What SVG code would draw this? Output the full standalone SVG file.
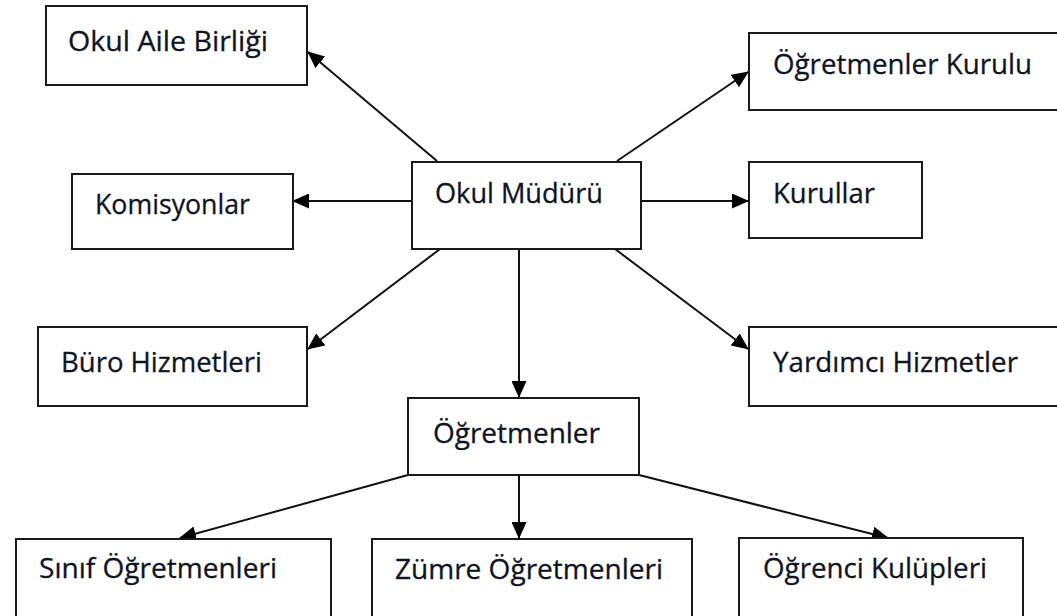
<svg xmlns="http://www.w3.org/2000/svg" width="1057" height="616" viewBox="0 0 1057 616">
<style>
.box{fill:#fff;stroke:#1a1a1a;stroke-width:2}
.lbl{font-family:"Open Sans","Liberation Sans",sans-serif;font-size:27px;fill:#0e1424;stroke:#0e1424;stroke-width:0.3}
.con{stroke:#111;stroke-width:2;fill:none;marker-end:url(#ah)}
</style>
<defs>
<marker id="ah" markerUnits="userSpaceOnUse" markerWidth="17" markerHeight="15" refX="16" refY="7.5" orient="auto">
<path d="M0,0 L17,7.5 L0,15 Z" fill="#000"/>
</marker>
</defs>
<rect width="1057" height="616" fill="#fff"/>
<g id="connectors">
<line class="con" x1="437" y1="161" x2="308" y2="52"/>
<line class="con" x1="617" y1="161" x2="748" y2="72"/>
<line class="con" x1="412" y1="201" x2="293" y2="201"/>
<line class="con" x1="641" y1="201" x2="748" y2="201"/>
<line class="con" x1="440" y1="249" x2="308" y2="349"/>
<line class="con" x1="615" y1="249" x2="748" y2="349"/>
<line class="con" x1="519" y1="249" x2="519" y2="397"/>
<line class="con" x1="408" y1="475" x2="180" y2="538"/>
<line class="con" x1="519" y1="475" x2="519" y2="538"/>
<line class="con" x1="639" y1="475" x2="888" y2="538"/>
</g>
<g id="okul-aile-birligi"><rect class="box" x="46" y="6" width="261" height="79"/><text class="lbl" x="68" y="51" textLength="200" lengthAdjust="spacingAndGlyphs">Okul Aile Birliği</text></g>
<g id="ogretmenler-kurulu"><rect class="box" x="749" y="33" width="320" height="77"/><text class="lbl" x="773" y="74" textLength="259" lengthAdjust="spacingAndGlyphs">Öğretmenler Kurulu</text></g>
<g id="okul-muduru"><rect class="box" x="412" y="162" width="229" height="87"/><text class="lbl" x="435" y="203" textLength="168" lengthAdjust="spacingAndGlyphs">Okul Müdürü</text></g>
<g id="komisyonlar"><rect class="box" x="72" y="174" width="221" height="75"/><text class="lbl" x="95" y="214" textLength="155" lengthAdjust="spacingAndGlyphs">Komisyonlar</text></g>
<g id="kurullar"><rect class="box" x="749" y="162" width="173" height="76"/><text class="lbl" x="773" y="203" textLength="102" lengthAdjust="spacingAndGlyphs">Kurullar</text></g>
<g id="buro-hizmetleri"><rect class="box" x="38" y="327" width="269" height="79"/><text class="lbl" x="61" y="372" textLength="201" lengthAdjust="spacingAndGlyphs">Büro Hizmetleri</text></g>
<g id="yardimci-hizmetler"><rect class="box" x="749" y="327" width="320" height="79"/><text class="lbl" x="773" y="372" textLength="245" lengthAdjust="spacingAndGlyphs">Yardımcı Hizmetler</text></g>
<g id="ogretmenler"><rect class="box" x="408" y="398" width="231" height="77"/><text class="lbl" x="433" y="443" textLength="167" lengthAdjust="spacingAndGlyphs">Öğretmenler</text></g>
<g id="sinif-ogretmenleri"><rect class="box" x="16" y="539" width="315" height="90"/><text class="lbl" x="39" y="578" textLength="238" lengthAdjust="spacingAndGlyphs">Sınıf Öğretmenleri</text></g>
<g id="zumre-ogretmenleri"><rect class="box" x="372" y="539" width="320" height="90"/><text class="lbl" x="395" y="579" textLength="268" lengthAdjust="spacingAndGlyphs">Zümre Öğretmenleri</text></g>
<g id="ogrenci-kulupleri"><rect class="box" x="739" y="538" width="284" height="90"/><text class="lbl" x="763" y="578" textLength="224" lengthAdjust="spacingAndGlyphs">Öğrenci Kulüpleri</text></g>
</svg>
